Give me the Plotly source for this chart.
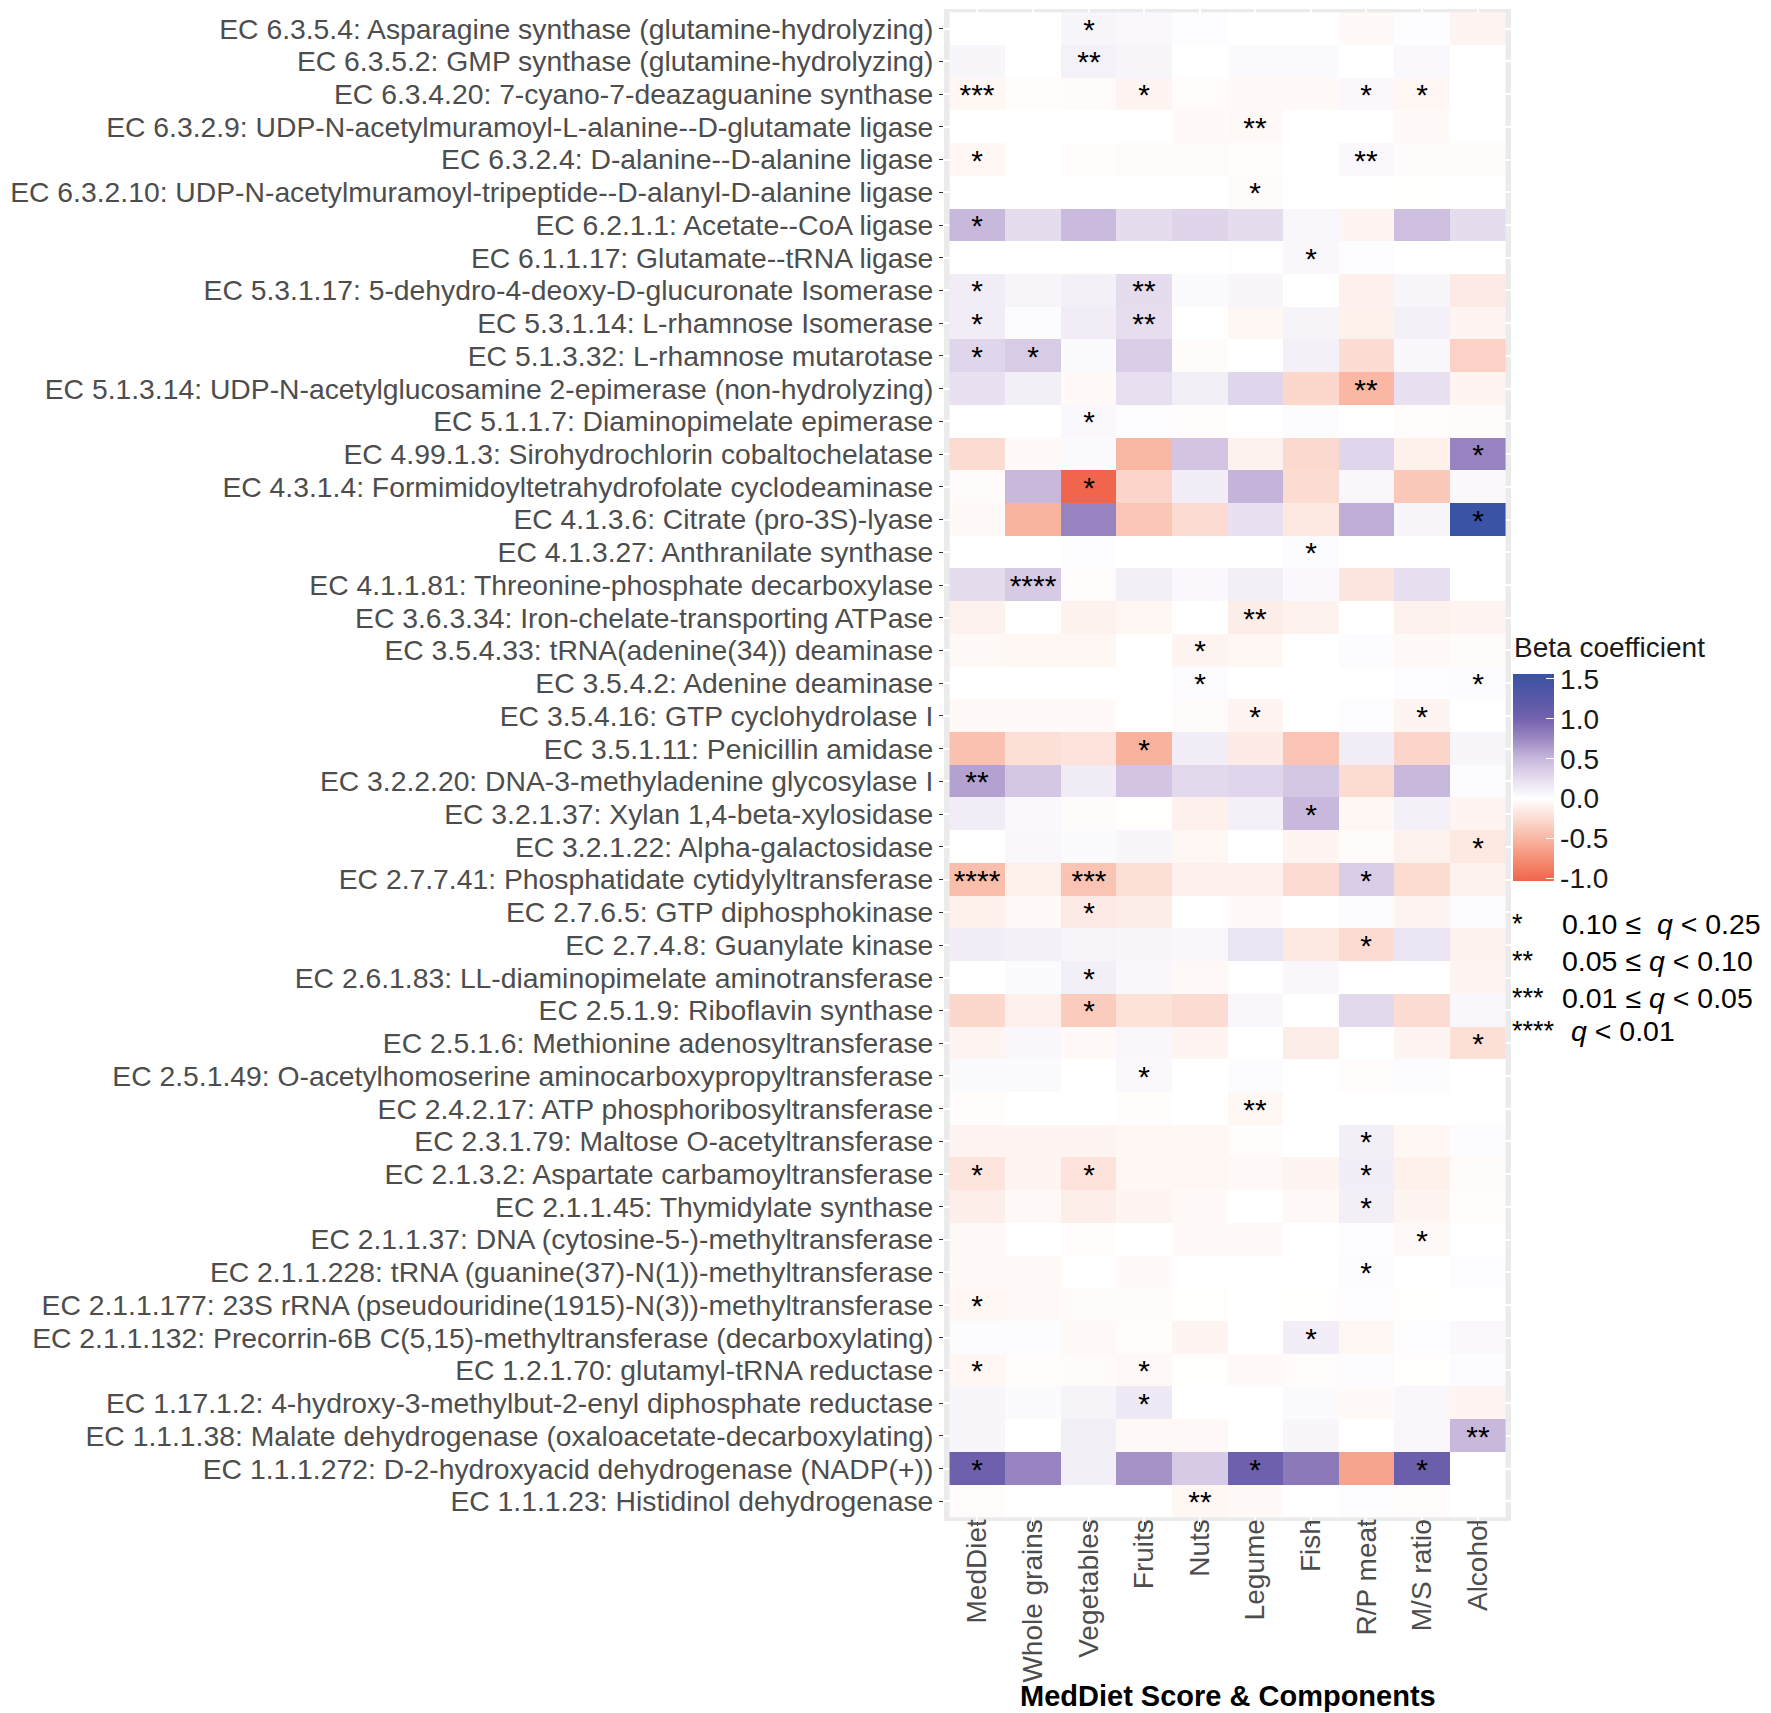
import plotly.graph_objects as go

enzymes = [
    "EC 6.3.5.4: Asparagine synthase (glutamine-hydrolyzing)",
    "EC 6.3.5.2: GMP synthase (glutamine-hydrolyzing)",
    "EC 6.3.4.20: 7-cyano-7-deazaguanine synthase",
    "EC 6.3.2.9: UDP-N-acetylmuramoyl-L-alanine--D-glutamate ligase",
    "EC 6.3.2.4: D-alanine--D-alanine ligase",
    "EC 6.3.2.10: UDP-N-acetylmuramoyl-tripeptide--D-alanyl-D-alanine ligase",
    "EC 6.2.1.1: Acetate--CoA ligase",
    "EC 6.1.1.17: Glutamate--tRNA ligase",
    "EC 5.3.1.17: 5-dehydro-4-deoxy-D-glucuronate Isomerase",
    "EC 5.3.1.14: L-rhamnose Isomerase",
    "EC 5.1.3.32: L-rhamnose mutarotase",
    "EC 5.1.3.14: UDP-N-acetylglucosamine 2-epimerase (non-hydrolyzing)",
    "EC 5.1.1.7: Diaminopimelate epimerase",
    "EC 4.99.1.3: Sirohydrochlorin cobaltochelatase",
    "EC 4.3.1.4: Formimidoyltetrahydrofolate cyclodeaminase",
    "EC 4.1.3.6: Citrate (pro-3S)-lyase",
    "EC 4.1.3.27: Anthranilate synthase",
    "EC 4.1.1.81: Threonine-phosphate decarboxylase",
    "EC 3.6.3.34: Iron-chelate-transporting ATPase",
    "EC 3.5.4.33: tRNA(adenine(34)) deaminase",
    "EC 3.5.4.2: Adenine deaminase",
    "EC 3.5.4.16: GTP cyclohydrolase I",
    "EC 3.5.1.11: Penicillin amidase",
    "EC 3.2.2.20: DNA-3-methyladenine glycosylase I",
    "EC 3.2.1.37: Xylan 1,4-beta-xylosidase",
    "EC 3.2.1.22: Alpha-galactosidase",
    "EC 2.7.7.41: Phosphatidate cytidylyltransferase",
    "EC 2.7.6.5: GTP diphosphokinase",
    "EC 2.7.4.8: Guanylate kinase",
    "EC 2.6.1.83: LL-diaminopimelate aminotransferase",
    "EC 2.5.1.9: Riboflavin synthase",
    "EC 2.5.1.6: Methionine adenosyltransferase",
    "EC 2.5.1.49: O-acetylhomoserine aminocarboxypropyltransferase",
    "EC 2.4.2.17: ATP phosphoribosyltransferase",
    "EC 2.3.1.79: Maltose O-acetyltransferase",
    "EC 2.1.3.2: Aspartate carbamoyltransferase",
    "EC 2.1.1.45: Thymidylate synthase",
    "EC 2.1.1.37: DNA (cytosine-5-)-methyltransferase",
    "EC 2.1.1.228: tRNA (guanine(37)-N(1))-methyltransferase",
    "EC 2.1.1.177: 23S rRNA (pseudouridine(1915)-N(3))-methyltransferase",
    "EC 2.1.1.132: Precorrin-6B C(5,15)-methyltransferase (decarboxylating)",
    "EC 1.2.1.70: glutamyl-tRNA reductase",
    "EC 1.17.1.2: 4-hydroxy-3-methylbut-2-enyl diphosphate reductase",
    "EC 1.1.1.38: Malate dehydrogenase (oxaloacetate-decarboxylating)",
    "EC 1.1.1.272: D-2-hydroxyacid dehydrogenase (NADP(+))",
    "EC 1.1.1.23: Histidinol dehydrogenase",
]

components = ["MedDiet", "Whole grains", "Vegetables", "Fruits", "Nuts",
              "Legume", "Fish", "R/P meat", "M/S ratio", "Alcohol"]

# Beta coefficients, one list per component (rows in enzyme order, top to bottom)
beta_meddiet = [0, 0.07, -0.06, 0, -0.06, 0, 0.5, 0, 0.14, 0.14,
                0.3, 0.22, 0, -0.25, -0.03, -0.04, 0, 0.26, -0.09, -0.05,
                0, -0.04, -0.43, 0.62, 0.14, 0, -0.45, -0.11, 0.13, 0,
                -0.28, -0.08, 0.04, -0.02, -0.08, -0.19, -0.12, -0.05, -0.04, -0.06,
                0.03, -0.06, 0.07, 0.07, 1.05, -0.02]
beta_wholegrains = [0, 0, -0.02, 0, 0, 0, 0.26, 0, 0.08, 0.03,
                    0.37, 0.12, 0, -0.04, 0.5, -0.52, 0, 0.38, 0.01, -0.06,
                    0, -0.04, -0.22, 0.4, 0.05, 0.06, -0.11, -0.04, 0.11, 0.04,
                    -0.1, 0.06, 0.04, 0, -0.07, -0.08, -0.05, 0, -0.04, -0.05,
                    0.03, -0.02, 0.04, 0, 0.78, 0]
beta_vegetables = [0.07, 0.1, -0.03, 0, -0.02, 0, 0.48, 0, 0.11, 0.14,
                   0.04, -0.04, 0.05, 0.04, -1.03, 0.78, 0.02, -0.02, -0.09, -0.06,
                   0, -0.04, -0.2, 0.15, -0.03, 0.04, -0.41, -0.15, 0.08, 0.12,
                   -0.36, -0.04, 0, 0, -0.08, -0.2, -0.12, -0.02, 0, -0.03,
                   -0.05, -0.03, 0.09, 0.12, 0.12, 0]
beta_fruits = [0.05, 0.07, -0.07, 0, -0.03, 0, 0.26, 0, 0.26, 0.25,
               0.36, 0.23, 0.02, -0.5, -0.3, -0.4, 0, 0.12, -0.06, 0,
               0, 0, -0.53, 0.42, -0.01, 0.07, -0.22, -0.13, 0.07, 0.06,
               -0.21, 0.06, 0.05, -0.02, -0.06, -0.06, -0.08, 0, -0.04, -0.03,
               -0.02, -0.05, 0.16, -0.05, 0.7, 0]
beta_nuts = [0.02, 0, -0.02, -0.04, -0.03, 0, 0.31, 0, 0.04, 0,
             -0.03, 0.12, -0.02, 0.42, 0.13, -0.25, 0, 0.05, 0, -0.07,
             0.03, -0.03, 0.13, 0.28, -0.1, -0.06, -0.1, 0, 0.06, -0.05,
             -0.25, -0.08, 0, 0, -0.06, -0.06, -0.04, -0.04, 0, -0.01,
             -0.08, -0.01, 0, -0.05, 0.38, -0.06]
beta_legume = [0, 0.04, -0.04, -0.05, -0.02, -0.03, 0.26, 0.01, 0.07, -0.06,
               0, 0.3, 0, -0.09, 0.52, 0.22, 0, 0.12, -0.13, -0.06,
               0, -0.07, -0.14, 0.3, 0.11, 0, -0.1, -0.04, 0.2, 0.01,
               0.06, 0, 0.03, -0.06, -0.02, -0.05, 0, -0.04, 0, 0,
               0, -0.04, 0, 0, 1.05, -0.04]
beta_fish = [0, 0.04, -0.04, 0, 0, 0, 0.06, 0.06, 0, 0.09,
             0.11, -0.28, 0.03, -0.27, -0.25, -0.16, 0.03, 0.05, -0.09, 0,
             0, 0, -0.42, 0.4, 0.5, -0.07, -0.25, 0, -0.16, 0.06,
             0, -0.13, 0, 0, 0, -0.08, -0.05, 0, 0, -0.01,
             0.13, -0.02, 0.04, 0.07, 0.85, 0]
beta_rpmeat = [-0.04, 0, 0.05, 0, 0.05, 0, -0.07, 0.02, -0.1, -0.11,
               -0.24, -0.5, 0, 0.3, 0.06, 0.55, 0, -0.18, 0, 0.03,
               0, 0.02, 0.13, -0.26, -0.06, -0.03, 0.36, 0.03, -0.25, 0,
               0.28, 0, -0.02, 0, 0.12, 0.13, 0.12, 0.02, 0.03, 0.02,
               -0.06, 0.03, -0.04, 0, -0.62, 0.02]
beta_msratio = [0.02, 0.05, -0.06, -0.04, -0.03, -0.01, 0.45, 0, 0.07, 0.11,
                0.06, 0.22, -0.02, -0.11, -0.38, 0.07, 0, 0.24, -0.09, -0.05,
                0.02, -0.07, -0.3, 0.5, 0.11, -0.09, -0.26, -0.08, 0.2, 0,
                -0.25, -0.08, 0.03, 0, -0.06, -0.11, -0.08, -0.05, 0, -0.01,
                0.02, -0.01, 0.06, 0.06, 1.08, -0.02]
beta_alcohol = [-0.07, 0, 0, 0, -0.03, 0, 0.26, 0, -0.15, -0.08,
                -0.32, -0.08, -0.03, 0.78, 0.05, 1.56, 0, 0, -0.07, -0.03,
                0.03, 0, 0.07, 0.03, -0.07, -0.16, -0.09, 0.03, -0.09, -0.07,
                0.06, -0.22, 0, 0, 0.03, -0.03, -0.02, 0, 0.02, 0,
                0.05, 0.03, -0.08, 0.5, 0.01, 0]

# Significance (number of asterisks), keyed by row number (1 = top row)
sig_meddiet = {3: 3, 5: 1, 7: 1, 9: 1, 10: 1, 11: 1, 24: 2, 27: 4, 36: 1, 40: 1, 42: 1, 45: 1}
sig_wholegrains = {11: 1, 18: 4}
sig_vegetables = {1: 1, 2: 2, 13: 1, 15: 1, 27: 3, 28: 1, 30: 1, 31: 1, 36: 1}
sig_fruits = {3: 1, 9: 2, 10: 2, 23: 1, 33: 1, 42: 1, 43: 1}
sig_nuts = {20: 1, 21: 1, 46: 2}
sig_legume = {4: 2, 6: 1, 19: 2, 22: 1, 34: 2, 45: 1}
sig_fish = {8: 1, 17: 1, 25: 1, 41: 1}
sig_rpmeat = {3: 1, 5: 2, 12: 2, 27: 1, 29: 1, 35: 1, 36: 1, 37: 1, 39: 1}
sig_msratio = {3: 1, 22: 1, 38: 1, 45: 1}
sig_alcohol = {14: 1, 16: 1, 21: 1, 26: 1, 32: 1, 44: 2}

cbar_ticks = [-1.0, -0.5, 0.0, 0.5, 1.0, 1.5]
sig_legend_stars = ["*", "**", "***", "****"]
sig_legend_text = ["0.10 \u2264  <i>q</i> < 0.25", "0.05 \u2264 <i>q</i> < 0.10",
                   "0.01 \u2264 <i>q</i> < 0.05", "<i>q</i> < 0.01"]

beta_cols = [beta_meddiet, beta_wholegrains, beta_vegetables, beta_fruits, beta_nuts,
             beta_legume, beta_fish, beta_rpmeat, beta_msratio, beta_alcohol]
sig_cols = [sig_meddiet, sig_wholegrains, sig_vegetables, sig_fruits, sig_nuts,
            sig_legume, sig_fish, sig_rpmeat, sig_msratio, sig_alcohol]

n = len(enzymes)
z = [[col[i] for col in beta_cols] for i in range(n)]
stars = [["*" * sig.get(i + 1, 0) for sig in sig_cols] for i in range(n)]

zmin, zmax = -1.03, 1.56
stops = [(-1.03, "#F0654B"), (-0.75, "#F58F76"), (-0.5, "#F9B7A4"), (-0.25, "#FCDCD2"),
         (0.0, "#FFFFFF"), (0.25, "#E6DDEF"), (0.5, "#C8B8DC"), (0.75, "#9C88C2"),
         (1.0, "#7462AE"), (1.25, "#5858A8"), (1.56, "#3A53A4")]
colorscale = [[(v - zmin) / (zmax - zmin), c] for v, c in stops]

W, H = 1771, 1713
L, R, T, B = 936, 268, 1, 200
PW, PH = W - L - R, H - T - B


def px_x(px):
    return (px - L) / PW


def px_y(py):
    return (H - B - py) / PH


FONT = "Liberation Sans, Arial, Helvetica, sans-serif"

fig = go.Figure(go.Heatmap(
    z=z, x=components, y=enzymes,
    text=stars, texttemplate="%{text}",
    textfont=dict(size=30, color="black", family=FONT),
    colorscale=colorscale, zmin=zmin, zmax=zmax,
    hoverinfo="skip",
    colorbar=dict(
        tickvals=cbar_ticks, ticktext=["%.1f" % v for v in cbar_ticks],
        ticks="inside", ticklen=8, tickcolor="white", tickwidth=1,
        tickfont=dict(size=28, color="#1a1a1a", family=FONT),
        thickness=41, thicknessmode="pixels",
        len=207, lenmode="pixels",
        x=px_x(1505), xanchor="left", xpad=0,
        y=px_y(873), yanchor="bottom", ypad=0,
        outlinewidth=0,
    ),
))

annotations = [dict(text="Beta coefficient", x=px_x(1504), y=px_y(639),
                    xref="paper", yref="paper", xanchor="left", yanchor="middle",
                    showarrow=False, font=dict(size=28, color="#1a1a1a", family=FONT))]
ys = [916, 953, 990, 1023]
for s, t, yy in zip(sig_legend_stars, sig_legend_text, ys):
    annotations.append(dict(text=s, x=px_x(1502), y=px_y(yy), xref="paper", yref="paper",
                            xanchor="left", yanchor="middle", showarrow=False,
                            font=dict(size=27, color="black", family=FONT)))
    annotations.append(dict(text=t, x=px_x(1552 if not t.startswith("<i>") else 1561),
                            y=px_y(yy), xref="paper", yref="paper",
                            xanchor="left", yanchor="middle", showarrow=False,
                            font=dict(size=28.5, color="black", family=FONT)))
annotations.append(dict(text="<b>MedDiet Score & Components</b>", x=0.5, y=px_y(1688),
                        xref="paper", yref="paper", xanchor="center", yanchor="middle",
                        showarrow=False, font=dict(size=29, color="black", family=FONT)))

fig.update_layout(
    width=W, height=H,
    margin=dict(l=L, r=R, t=T, b=B, autoexpand=False),
    paper_bgcolor="white", plot_bgcolor="#EBEBEB",
    font=dict(family=FONT),
    annotations=annotations,
)
fig.update_xaxes(range=[-0.6, 9.6], tickangle=-90, ticks="outside", ticklen=4,
                 tickmode="linear", tick0=0, dtick=1, ticklabelstandoff=-18,
                 tickcolor="#333333", tickfont=dict(size=28, color="#4D4D4D", family=FONT),
                 showgrid=True, gridcolor="white", gridwidth=1.5, zeroline=False,
                 showline=False, automargin=False)
fig.update_yaxes(range=[n - 0.4, -0.6], categoryorder="array", categoryarray=enzymes,
                 tickmode="linear", tick0=0, dtick=1,
                 ticks="outside", ticklen=4, tickcolor="#333333",
                 tickfont=dict(size=28.3, color="#4D4D4D", family=FONT),
                 showgrid=True, gridcolor="white", gridwidth=1.5, zeroline=False,
                 showline=False, automargin=False)

fig.write_html("out.html")
